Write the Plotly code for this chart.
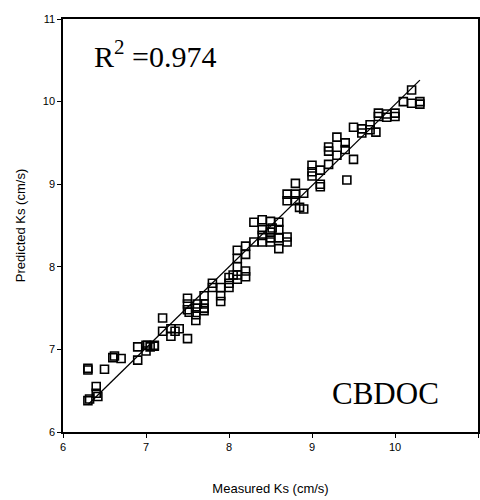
import plotly.graph_objects as go

# Measured vs predicted Ks (cm/s)
measured = [
    6.3, 6.3, 6.3, 6.32, 6.4, 6.4, 6.42, 6.5, 6.6, 6.62, 6.7,
    6.9, 6.9, 7.0, 7.0, 7.02, 7.05, 7.1, 7.1,
    7.2, 7.2, 7.3, 7.3, 7.35, 7.4,
    7.5, 7.5, 7.5, 7.5, 7.52, 7.6, 7.6, 7.6, 7.62,
    7.7, 7.7, 7.7, 7.7, 7.8, 7.8, 7.9, 7.9, 7.9,
    8.0, 8.0, 8.0, 8.05, 8.1, 8.1, 8.1, 8.1, 8.1,
    8.2, 8.2, 8.2, 8.2, 8.3, 8.3,
    8.4, 8.4, 8.4, 8.4, 8.5, 8.5, 8.5, 8.5, 8.52,
    8.6, 8.6, 8.6, 8.6, 8.7, 8.7, 8.7, 8.7,
    8.8, 8.8, 8.8, 8.85, 8.9, 8.9,
    9.0, 9.0, 9.0, 9.1, 9.1, 9.1, 9.2, 9.2, 9.2,
    9.3, 9.3, 9.4, 9.4, 9.42, 9.5, 9.5,
    9.6, 9.6, 9.7, 9.7, 9.77, 9.8, 9.8, 9.9, 9.9,
    10.0, 10.0, 10.1, 10.2, 10.2, 10.3, 10.3,
]
predicted = [
    6.77, 6.75, 6.38, 6.4, 6.55, 6.47, 6.43, 6.76, 6.9, 6.92, 6.89,
    6.87, 7.03, 7.05, 6.98, 7.05, 7.03, 7.05, 7.04,
    7.38, 7.22, 7.25, 7.16, 7.22, 7.25,
    7.13, 7.62, 7.55, 7.48, 7.45, 7.5, 7.42, 7.35, 7.55,
    7.65, 7.55, 7.47, 7.5, 7.8, 7.75, 7.75, 7.65, 7.58,
    7.87, 7.8, 7.75, 7.9, 8.2, 8.1, 8.0, 7.9, 7.85,
    8.25, 8.15, 7.95, 7.88, 8.54, 8.3,
    8.57, 8.45, 8.38, 8.3, 8.55, 8.42, 8.35, 8.3, 8.47,
    8.54, 8.45, 8.35, 8.22, 8.88, 8.8, 8.36, 8.3,
    9.01, 8.88, 8.8, 8.72, 8.89, 8.7,
    9.23, 9.15, 9.1, 9.17, 9.0, 8.97, 9.45, 9.4, 9.24,
    9.57, 9.35, 9.5, 9.42, 9.05, 9.69, 9.3,
    9.67, 9.62, 9.72, 9.66, 9.63, 9.86, 9.82, 9.81, 9.85,
    9.86, 9.82, 10.0, 10.14, 9.98, 10.0, 9.97,
]

# fitted line end points
fit_x = [6.3, 10.3]
fit_y = [6.33, 10.26]

x_ticks = [6, 7, 8, 9, 10, 11]
y_ticks = [6, 7, 8, 9, 10, 11]

fig = go.Figure()
fig.add_trace(go.Scatter(x=fit_x, y=fit_y, mode='lines',
                         line=dict(color='black', width=1.3),
                         hoverinfo='none'))
fig.add_trace(go.Scatter(x=measured, y=predicted, mode='markers',
                         marker=dict(symbol='square-open', size=8,
                                     color='black',
                                     line=dict(color='black', width=1.6))))

serif = 'Liberation Serif, Times New Roman, serif'
sans = 'Liberation Sans Narrow, Liberation Sans, Arial, sans-serif'

axis = dict(showline=True, linecolor='black', linewidth=1.5, mirror=True,
            showgrid=False, zeroline=False, ticks='outside', ticklen=4,
            tickwidth=1.2, tickcolor='black', automargin=False,
            tickfont=dict(family=sans, size=11, color='black'))

fig.update_layout(
    width=480, height=500,
    margin=dict(l=63, r=2, t=19, b=68),
    paper_bgcolor='white', plot_bgcolor='white',
    showlegend=False,
    xaxis=dict(axis, range=[6, 11], tickvals=x_ticks,
               title=dict(text='Measured Ks (cm/s)', standoff=32,
                          font=dict(family=sans, size=13, color='black'))),
    yaxis=dict(axis, range=[6, 11], tickvals=y_ticks,
               title=dict(text='Predicted Ks (cm/s)', standoff=14,
                          font=dict(family=sans, size=13, color='black'))),
    annotations=[
        dict(text='R<sup>2</sup> =0.974', x=0.07, y=0.966, xref='paper', yref='paper',
             xanchor='left', yanchor='top', showarrow=False,
             font=dict(family=serif, size=30, color='black')),
        dict(text='CBDOC', x=0.91, y=0.045, xref='paper', yref='paper',
             xanchor='right', yanchor='bottom', showarrow=False,
             font=dict(family=serif, size=31, color='black')),
    ],
)

# drop the page's default body margin so the 480x500 figure fills the window
fig.write_html("out.html",
               config={'displayModeBar': False},
               post_script="document.body.style.margin='0';"
                           "document.body.style.overflow='hidden';")
